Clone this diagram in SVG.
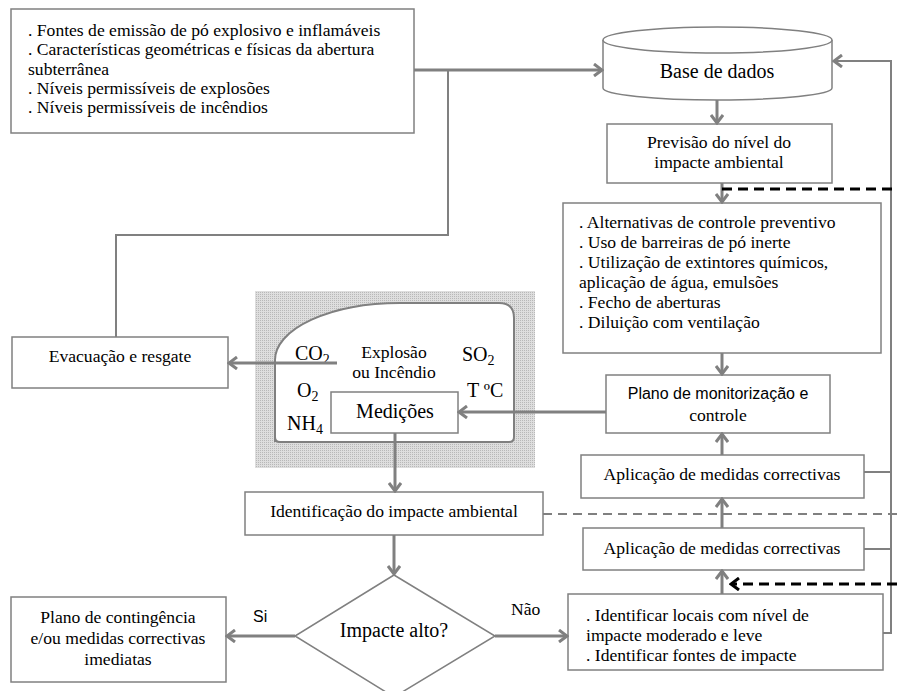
<svg xmlns="http://www.w3.org/2000/svg" width="897" height="691" viewBox="0 0 897 691">
<defs>
<style>
.box{fill:#fff;stroke:#808080;stroke-width:1.5}
.t{font-family:"Liberation Serif","Times New Roman",serif;font-size:17.6px;fill:#000}
.c{text-anchor:middle}
.s{font-family:"Liberation Sans",Arial,sans-serif;font-size:16px}
.big{font-size:20px}
.ln{fill:none;stroke:#808080;stroke-width:3}
.thin{fill:none;stroke:#808080;stroke-width:2}
.dk{fill:none;stroke:#000;stroke-width:3;stroke-dasharray:10 6}
.dg{fill:none;stroke:#808080;stroke-width:2;stroke-dasharray:9 6}
</style>
<marker id="ah" markerUnits="userSpaceOnUse" viewBox="0 0 12 14" refX="10" refY="7" markerWidth="12" markerHeight="14" orient="auto">
<path d="M2,1 L10,7 L2,13" fill="none" stroke="#808080" stroke-width="3"/>
</marker>
<marker id="ahk" markerUnits="userSpaceOnUse" viewBox="0 0 12 14" refX="10" refY="7" markerWidth="12" markerHeight="14" orient="auto">
<path d="M2,1 L10,7 L2,13" fill="none" stroke="#000" stroke-width="3" stroke-dasharray="none"/>
</marker>
<pattern id="dots" width="2" height="2" patternUnits="userSpaceOnUse">
<rect width="2" height="2" fill="#dedede"/>
<rect width="1" height="1" fill="#b8b8b8"/>
</pattern>
</defs>

<!-- input data -->
<g id="fontes">
<rect class="box" x="11" y="9" width="403" height="124"/>
<text class="t" x="28" y="36">. Fontes de emissão de pó explosivo e inflamáveis</text>
<text class="t" x="28" y="55">. Características geométricas e físicas da abertura</text>
<text class="t" x="28" y="75">subterrânea</text>
<text class="t" x="28" y="94">. Níveis permissíveis de explosões</text>
<text class="t" x="28" y="113">. Níveis permissíveis de incêndios</text>
</g>

<g id="base-dados">
<path class="box" d="M603,40 V88 A114.5,12 0 0 0 832,88 V40"/>
<ellipse class="box" cx="717.5" cy="40" rx="114.5" ry="13"/>
<text class="t c big" x="717" y="78">Base de dados</text>
</g>

<g id="previsao">
<rect class="box" x="607" y="124" width="225" height="59"/>
<text class="t c" x="719" y="148">Previsão do nível do</text>
<text class="t c" x="719" y="168">impacte ambiental</text>
</g>

<g id="alternativas">
<rect class="box" x="563" y="203" width="318" height="150"/>
<text class="t" x="579" y="228">. Alternativas de controle preventivo</text>
<text class="t" x="579" y="248">. Uso de barreiras de pó inerte</text>
<text class="t" x="579" y="268">. Utilização de extintores químicos,</text>
<text class="t" x="579" y="288">aplicação de água, emulsões</text>
<text class="t" x="579" y="308">. Fecho de aberturas</text>
<text class="t" x="579" y="328">. Diluição com ventilação</text>
</g>

<g id="plano-monitorizacao">
<rect class="box" x="606" y="375" width="224" height="58"/>
<text class="s c" x="718" y="399">Plano de monitorização e</text>
<text class="t c" x="718" y="421">controle</text>
</g>

<g id="aplicacao-1">
<rect class="box" x="581" y="455" width="283" height="43"/>
<text class="t c" x="722" y="480">Aplicação de medidas correctivas</text>
</g>

<g id="aplicacao-2">
<rect class="box" x="583" y="528" width="281" height="42"/>
<text class="t c" x="722" y="554">Aplicação de medidas correctivas</text>
</g>

<g id="identificar-locais">
<rect class="box" x="568" y="594" width="315" height="76"/>
<text class="t" x="586" y="621">. Identificar locais com nível de</text>
<text class="t" x="586" y="641">impacte moderado e leve</text>
<text class="t" x="586" y="661">. Identificar fontes de impacte</text>
</g>

<!-- underground opening with measured gases -->
<g id="abertura">
<rect x="255" y="291" width="280" height="177" fill="url(#dots)"/>
<path d="M275,442 V360 A125,57 0 0 1 400,303 H499 Q514,303 514,318 V437 Q514,442 509,442 H280 Q275,442 275,437 Z" fill="#fff" stroke="#808080" stroke-width="2"/>
<text class="t big" x="295" y="360">CO<tspan font-size="14" dy="4">2</tspan></text>
<text class="t c" x="394" y="358">Explosão</text>
<text class="t c" x="394" y="378">ou Incêndio</text>
<text class="t big" x="462" y="361">SO<tspan font-size="14" dy="4">2</tspan></text>
<text class="t big" x="297" y="397">O<tspan font-size="14" dy="4">2</tspan></text>
<text class="t big" x="467" y="397">T ºC</text>
<text class="t big" x="287" y="430">NH<tspan font-size="14" dy="4">4</tspan></text>
</g>

<g id="medicoes">
<rect class="box" x="331" y="392" width="127" height="41"/>
<text class="t c big" x="395" y="418">Medições</text>
</g>

<g id="evacuacao">
<rect class="box" x="12" y="337" width="216" height="51"/>
<text class="t c" x="120" y="362">Evacuação e resgate</text>
</g>

<g id="identificacao">
<rect class="box" x="245" y="492" width="298" height="43"/>
<text class="t c" x="394" y="517">Identificação do impacte ambiental</text>
</g>

<g id="decisao">
<polygon class="box" points="394,575 495,636 394,697 295,636"/>
<text class="t c big" x="394" y="637">Impacte alto?</text>
</g>

<g id="contingencia">
<rect class="box" x="11" y="597" width="215" height="85"/>
<text class="t c" x="118" y="623">Plano de contingência</text>
<text class="t c" x="118" y="644">e/ou medidas correctivas</text>
<text class="t c" x="118" y="665">imediatas</text>
</g>

<!-- connectors -->
<g id="connectors">
<path class="ln" d="M414,70 H602" marker-end="url(#ah)"/>
<path class="thin" d="M448,70 V235 H116 V337"/>
<path class="ln" d="M717,100 V123" marker-end="url(#ah)"/>
<path class="ln" d="M722,183 V202" marker-end="url(#ah)"/>
<path class="ln" d="M722,353 V374" marker-end="url(#ah)"/>
<path class="ln" d="M606,412 H459" marker-end="url(#ah)"/>
<path class="ln" d="M337,363 H229" marker-end="url(#ah)"/>
<path class="ln" d="M395,433 V491" marker-end="url(#ah)"/>
<path class="ln" d="M394,535 V574" marker-end="url(#ah)"/>
<path class="ln" d="M295,636 H227" marker-end="url(#ah)"/>
<path class="ln" d="M495,636 H567" marker-end="url(#ah)"/>
<path class="ln" d="M722,594 V571" marker-end="url(#ah)"/>
<path class="ln" d="M722,528 V499" marker-end="url(#ah)"/>
<path class="ln" d="M722,455 V434" marker-end="url(#ah)"/>
<path class="thin" d="M864,472 H891"/>
<path class="thin" d="M864,549 H891"/>
<path class="thin" d="M883,633 H891 V61 H834" marker-end="url(#ah)"/>
<path class="dk" d="M722,189 H897"/>
<path class="dk" d="M897,584 H731" marker-end="url(#ahk)"/>
<path class="dg" d="M543,514 H897"/>
<text class="s" x="253" y="622" font-size="17">Si</text>
<text class="t" x="511" y="615">Não</text>
</g>
</svg>
